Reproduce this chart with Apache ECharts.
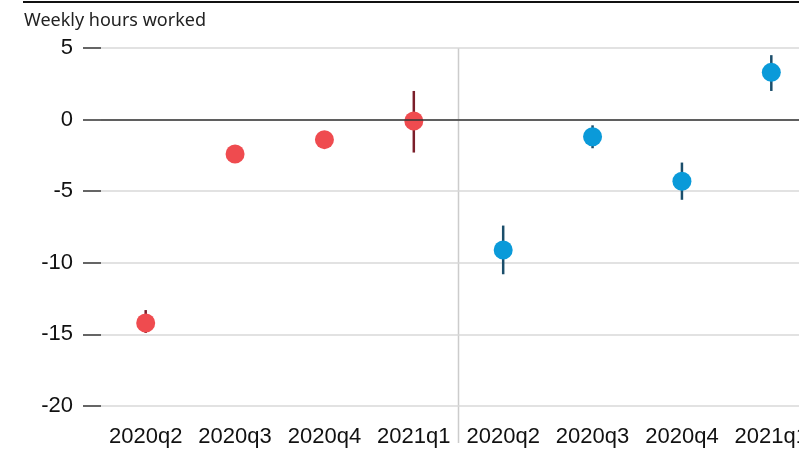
<!DOCTYPE html>
<html><head><meta charset="utf-8">
<script src="https://cdn.jsdelivr.net/npm/echarts@6/dist/echarts.min.js"></script>
<style>html,body{margin:0;padding:0;background:#fff}#c{width:799px;height:451px}</style>
</head><body><div id="c"></div>
<script>
const categories = ['2020q2','2020q3','2020q4','2021q1','2020q2','2020q3','2020q4','2021q1'];
const redValues = [-14.2, -2.4, -1.4, -0.1];
const redLow = [-14.9, -2.7, -1.6, -2.3];
const redHigh = [-13.3, -2.1, -1.2, 2.0];
const blueValues = [-9.1, -1.2, -4.3, 3.3];
const blueLow = [-10.8, -2.0, -5.6, 2.0];
const blueHigh = [-7.4, -0.4, -3.0, 4.5];
const yTicks = [5, 0, -5, -10, -15, -20];

const chart = echarts.init(document.getElementById('c'));
const redPts = redValues.map((v,i)=>[i,v]);
const bluePts = blueValues.map((v,i)=>[i+4,v]);
const redErr = redValues.map((v,i)=>[i,redLow[i],redHigh[i]]);
const blueErr = blueValues.map((v,i)=>[i+4,blueLow[i],blueHigh[i]]);

function errRender(color){
  return function(params, api){
    const x = api.value(0);
    const p1 = api.coord([x, api.value(1)]);
    const p2 = api.coord([x, api.value(2)]);
    return {type:'line', shape:{x1:p1[0],y1:p1[1],x2:p2[0],y2:p2[1]}, style:{stroke:color,lineWidth:2.5}};
  };
}

const titleG = {type:'text', left:24, top:12, style:{text:'Weekly hours worked', fill:'#222', font:'18px "Noto Sans"'}};
const topLine = {type:'line', shape:{x1:23,y1:2,x2:799,y2:2}, style:{stroke:'#111',lineWidth:2}};

chart.setOption({
  animation:false,
  grid:{left:101, width:715, top:48, bottom:45, containLabel:false, outerBoundsMode:'none'},
  xAxis:{
    type:'category', data:categories, boundaryGap:true,
    axisLine:{show:false}, axisTick:{show:false},
    axisLabel:{color:'#111', fontSize:22, fontFamily:'Liberation Sans', margin:20, interval:0}
  },
  yAxis:{
    type:'value', min:-20, max:5, interval:5,
    axisLine:{show:false},
    axisTick:{show:true, length:18, lineStyle:{color:'#333', width:1.5}},
    axisLabel:{color:'#111', fontSize:22, fontFamily:'Liberation Sans', margin:28},
    splitLine:{show:true, lineStyle:{color:'#d9d9d9', width:1.5}}
  },
  graphic:[topLine, titleG],
  series:[
    {type:'scatter', data:[], markLine:{silent:true, symbol:'none', label:{show:false},
      lineStyle:{color:'#333', width:1.5, type:'solid'}, data:[{yAxis:0}]}},
    {type:'custom', renderItem:errRender('#7b1e2a'), data:redErr, z:2},
    {type:'custom', renderItem:errRender('#1b4e6b'), data:blueErr, z:2},
    {type:'scatter', data:redPts, symbolSize:19, itemStyle:{color:'#ef4b4f', opacity:1}, z:3},
    {type:'scatter', data:bluePts, symbolSize:19, itemStyle:{color:'#0a9ad9', opacity:1}, z:3}
  ]
});

const xb = (chart.convertToPixel({xAxisIndex:0},3) + chart.convertToPixel({xAxisIndex:0},4))/2;
const yt = chart.convertToPixel({yAxisIndex:0},5);
chart.setOption({graphic:[
  topLine, titleG,
  {type:'line', z:-1, shape:{x1:xb,y1:yt,x2:xb,y2:443}, style:{stroke:'#cccccc',lineWidth:1.5}}
]});
</script>
</body></html>
